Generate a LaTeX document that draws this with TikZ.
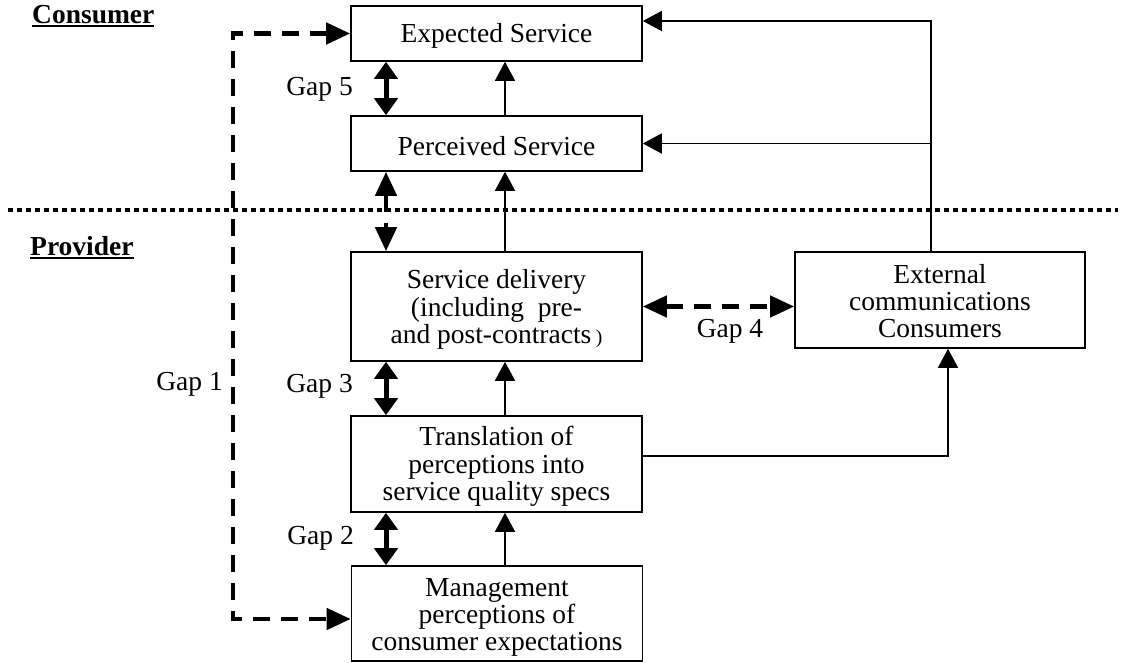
\documentclass[tikz,border=0pt]{standalone}
\usepackage{fontspec}
\setmainfont{Liberation Serif}
\usetikzlibrary{arrows.meta}

% heading with a heavy underline
\newcommand\sidehead[1]{\vtop{\hbox{\bfseries #1}\kern 2pt\hrule height 1.9pt}}
% extra room above the first line of a box label
\newcommand\topgap{\rule{0pt}{24pt}}

\begin{document}
\begin{tikzpicture}[x=1pt, y=-1pt,
  every node/.style={font=\fontsize{27.5}{27.3}\selectfont},
  box/.style={draw, line width=1.6pt, inner sep=0pt, align=center,
              minimum width=291pt},
  flow/.style={line width=1.5pt, -{Triangle[length=19pt,width=20pt]}},
  gaparr/.style={line width=5pt,
                 {Triangle[length=17pt,width=23pt]}-{Triangle[length=17pt,width=23pt]}},
  gapdash/.style={line width=4.5pt, dash pattern=on 17pt off 11pt},
  dashtips/.style={{Triangle[length=24pt,width=21pt]}-{Triangle[length=24pt,width=21pt]}},
  divider/.style={line width=3.5pt, dash pattern=on 5pt off 4pt}]

\useasboundingbox (0,0) rectangle (1122,662);

% boxes
\node[box, minimum height=55pt]  (exp)   at (496.5,33.5)  {\topgap Expected Service};
\node[box, minimum height=55pt]  (perc)  at (496.5,143.5) {\topgap Perceived Service};
\node[box, minimum height=109pt] (sd)    at (496.5,306.5) {\rule{0pt}{25pt}Service delivery\\(including\ \ pre-\\and post-contracts\,{\fontsize{19.5}{27}\selectfont)}};
\node[box, minimum height=96pt, minimum width=290pt] (ext) at (940,300) {\rule{0pt}{21pt}External\\communications\\Consumers};
\node[box, minimum height=96pt]  (trans) at (496.5,464)   {\topgap Translation of\\perceptions into\\service quality specs};
\node[box, minimum height=95pt]  (mgmt)  at (497,613.5)   {\rule{0pt}{26pt}Management\\perceptions of\\consumer expectations};

% section headings
\node[anchor=base west, inner sep=0pt] (cons) at (32,23)  {\sidehead{Consumer}};
\node[anchor=base west, inner sep=0pt] (prov) at (30,255) {\sidehead{Provider}};

% consumer / provider divider
\coordinate (dl) at (8,210);
\coordinate (dr) at (1118,210);
\draw[divider] (dl) -- (dr);

% reference columns
\coordinate (gx) at (386,0);
\coordinate (vx) at (505,0);

% upward flow
\draw[flow] (perc.north -| vx) -- (exp.south -| vx);
\draw[flow] (sd.north -| vx) -- (perc.south -| vx);
\draw[flow] (trans.north -| vx) -- (sd.south -| vx);
\draw[flow] (mgmt.north -| vx) -- (trans.south -| vx);

% gaps
\draw[gaparr] (exp.south -| gx) -- (perc.north -| gx);
\draw[gaparr] (sd.south -| gx) -- (trans.north -| gx);
\draw[gaparr] (trans.south -| gx) -- (mgmt.north -| gx);
\draw[gapdash, dashtips] (perc.south -| gx) -- (sd.north -| gx);
\draw[gapdash, dashtips] (sd.east) -- (sd.east -| ext.west);

\coordinate (g1) at (233,619);
\draw[gapdash, dashtips] (exp.west) -| (g1) -- (mgmt.west |- g1);

% external communications
\coordinate (rt) at (931,21);
\draw[flow] (ext.north -| rt) -- (rt) -- (exp.east |- rt);
\draw[flow] (rt |- perc.east) -- (perc.east);
\coordinate (tr) at (948,456);
\draw[flow] (trans.east |- tr) -- (tr) -- (tr |- ext.south);

% gap labels
\node[anchor=east, inner sep=0pt] (gap5) at (353,89)  {Gap 5};
\node[anchor=east, inner sep=0pt] (gap3) at (353,386) {Gap 3};
\node[anchor=east, inner sep=0pt] (gap2) at (354,538) {Gap 2};
\node[anchor=east, inner sep=0pt] (gap1) at (223,384) {Gap 1};
\node[inner sep=0pt] (gap4) at (730,331) {Gap 4};
\end{tikzpicture}
\end{document}
